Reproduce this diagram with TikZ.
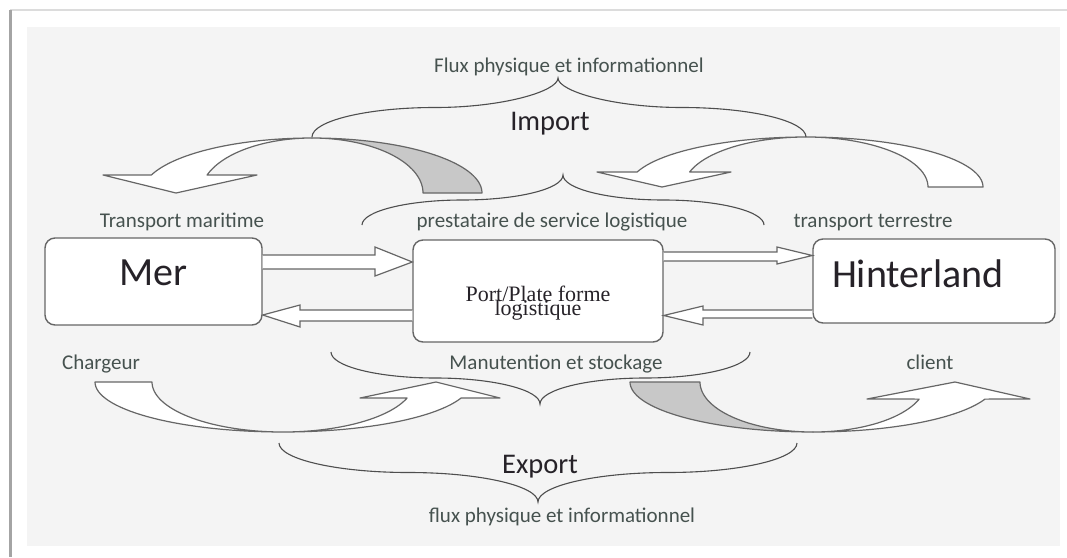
\documentclass[tikz,border=0pt]{standalone}
\usepackage{fontspec}
\setmainfont{Carlito}
\newfontfamily\portfont{Liberation Serif}
\usetikzlibrary{calc}

\definecolor{panelGray}{HTML}{F4F4F4}
\definecolor{frameGray}{HTML}{A4A4A4}
\definecolor{frameTop}{HTML}{DCDCDC}
\definecolor{lineGray}{HTML}{666666}
\definecolor{braceGray}{HTML}{4E4E4E}
\definecolor{tailGray}{HTML}{C8C8C8}
\definecolor{txtGray}{HTML}{46524F}
\definecolor{darkTxt}{HTML}{262228}

\begin{document}
\begin{tikzpicture}[x=1pt,y=-1pt,
        roundBox/.style={draw=lineGray, line width=1.4pt, fill=white, rounded corners=10pt, inner sep=0pt, text=darkTxt},
        blockArr/.style={draw=lineGray, line width=1.2pt, fill=white, line join=miter},
        curvArr/.style={draw=lineGray, line width=1.2pt, fill=white, line join=round},
        braceLine/.style={draw=braceGray, line width=1.1pt},
        lbl/.style={text=txtGray, font=\fontsize{21}{25}\selectfont, anchor=base, inner sep=0pt},
        bigLbl/.style={text=darkTxt, font=\fontsize{28.5}{34}\selectfont, anchor=base, inner sep=0pt}]

        %%% Frame
        \useasboundingbox (0,0) rectangle (1067,557);
        \fill[white] (0,0) rectangle (1067,557);
        \fill[panelGray] (27,27) rectangle (1060,546);
        \draw[frameTop, line width=1.5pt] (10,10) -- (1067,10);
        \draw[frameGray, line width=2.5pt] (10.5,10) -- (10.5,557);

        %%% Import
        % Left arrow (white part, grey tail)
        \filldraw[curvArr] plot[domain=90:161, samples=40] ({312+170*cos(\x)},{193-55*sin(\x)})
            -- (103,175) -- (176,193) -- (257,175)
            -- plot[domain=161:90, samples=40] ({312+111*cos(\x)},{193-55*sin(\x)}) -- cycle;
        \filldraw[curvArr, fill=tailGray] plot[domain=0:90, samples=40] ({312+170*cos(\x)},{193-55*sin(\x)})
            -- plot[domain=90:0, samples=40] ({312+111*cos(\x)},{193-55*sin(\x)}) -- cycle;

        % Right arrow
        \filldraw[curvArr] plot[domain=0:162.5, samples=60] ({806+177*cos(\x)},{187-50*sin(\x)})
            -- (597,172) -- (662,187) -- (731,172)
            -- plot[domain=162.5:0, samples=60] ({806+122*cos(\x)},{187-50*sin(\x)}) -- cycle;

        %%% Export
        % Left arrow
        \filldraw[curvArr] plot[domain=180:18.7, samples=60] ({283+188*cos(\x)},{382+50*sin(\x)})
            -- (500,398) -- (436,382) -- (360,398)
            -- plot[domain=18.7:180, samples=60] ({283+131*cos(\x)},{382+50*sin(\x)}) -- cycle;

        % Right arrow (grey tail, white part)
        \filldraw[curvArr, fill=tailGray] plot[domain=180:90, samples=40] ({813+183*cos(\x)},{382+50*sin(\x)})
            -- plot[domain=90:180, samples=40] ({813+113*cos(\x)},{382+50*sin(\x)}) -- cycle;
        \filldraw[curvArr] plot[domain=90:20, samples=40] ({813+183*cos(\x)},{382+50*sin(\x)})
            -- (1030,399) -- (955,382) -- (867,399)
            -- plot[domain=20:90, samples=40] ({813+113*cos(\x)},{382+50*sin(\x)}) -- cycle;

        %%% Braces
        \draw[braceLine] (312,137) .. controls (312,120.8) and (367.4,107.5) .. (435,107.5)
            .. controls (502.6,107.5) and (558,91.3) .. (558,78)
            .. controls (558,91.3) and (613.8,107.5) .. (682,107.5)
            .. controls (750.2,107.5) and (806,120.8) .. (806,137);
        \draw[braceLine] (362,225) .. controls (362,211.3) and (407.2,200) .. (462.5,200)
            .. controls (517.8,200) and (563,188.8) .. (563,175)
            .. controls (563,188.8) and (608.2,200) .. (663.5,200)
            .. controls (718.8,200) and (764,211.3) .. (764,225);
        \draw[braceLine] (331,352) .. controls (331,366.3) and (378,378) .. (435.5,378)
            .. controls (493,378) and (540,389.7) .. (540,404)
            .. controls (540,389.7) and (587.3,378) .. (645,378)
            .. controls (702.8,378) and (750,366.3) .. (750,352);
        \draw[braceLine] (279,443) .. controls (279,459.2) and (337.3,472.5) .. (408.5,472.5)
            .. controls (479.7,472.5) and (538,485.8) .. (538,502)
            .. controls (538,485.8) and (596.3,472.5) .. (667.5,472.5)
            .. controls (738.7,472.5) and (797,459.2) .. (797,443);

        %%% Boxes
        \node[roundBox, minimum width=217pt, minimum height=87pt, font=\fontsize{40}{46}\selectfont,
            text height=26pt, text depth=19pt] (mer) at (153.5,281.5) {Mer};
        \node[roundBox, minimum width=250pt, minimum height=102pt] (port) at (538,291) {};
        \node[roundBox, minimum width=242pt, minimum height=84pt, font=\fontsize{40}{46}\selectfont,
            text height=26pt, text depth=14pt, text width=204pt, align=left] (hinter) at (934,281) {Hinterland};
        \node[text=darkTxt, font={\portfont\fontsize{22}{14.5}\selectfont\lineskiplimit=-20pt}, align=center,
            inner sep=0pt] (portLbl) at (538,303) {Port/Plate forme\\logistique};

        % Arcs between boxes
        \draw[blockArr] (mer.east |- 0,255) -- (375,255) -- (375,247) -- (port.west |- 0,262)
            -- (375,276) -- (375,269) -- (mer.east |- 0,269);
        \draw[blockArr] (port.west |- 0,310) -- (300,310) -- (300,305) -- (mer.east |- 0,315)
            -- (300,327) -- (300,321) -- (port.west |- 0,321);
        \draw[blockArr] (port.east |- 0,252) -- (777,252) -- (777,247) -- (hinter.west |- 0,255.5)
            -- (777,264) -- (777,261) -- (port.east |- 0,261);
        \draw[blockArr] (hinter.west |- 0,310) -- (703,310) -- (703,306) -- (port.east |- 0,315.5)
            -- (703,325) -- (703,318) -- (hinter.west |- 0,318);

        %%% Labels
        \node[lbl] (fluxImp) at (569,72.5) {Flux physique et informationnel};
        \node[bigLbl] (imp) at (550,130) {Import};
        \node[lbl] (trMar) at (182,227) {Transport maritime};
        \node[lbl] (prest) at (552,227) {prestataire de service logistique};
        \node[lbl] (trTer) at (873,227) {transport terrestre};
        \node[lbl] (charg) at (101,369) {Chargeur};
        \node[lbl] (manut) at (556,369) {Manutention et stockage};
        \node[lbl] (cli) at (930,369) {client};
        \node[bigLbl] (exp) at (540,473) {Export};
        \node[lbl] (fluxExp) at (562,522) {flux physique et informationnel};
    \end{tikzpicture}
\end{document}
